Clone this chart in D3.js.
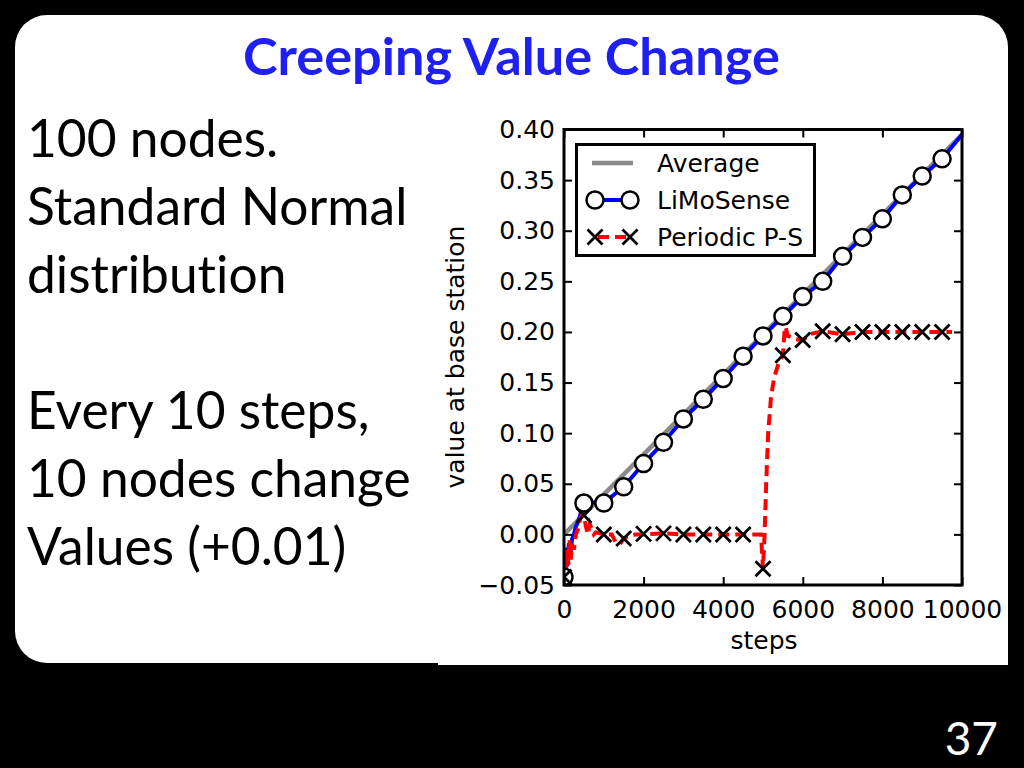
<!DOCTYPE html>
<html><head><meta charset="utf-8">
<script src="https://cdn.jsdelivr.net/npm/d3@7"></script>
<style>html,body{margin:0;padding:0;background:#000;overflow:hidden} text{font-variant-ligatures:none;font-feature-settings:"liga" 0}</style>
</head><body>
<svg id="c" width="1024" height="768"></svg>
<script>
// ---- data ----
const titleText = "Creeping Value Change";
const bodyLines = ["100 nodes.", "Standard Normal", "distribution", "", "Every 10 steps,", "10 nodes change", "Values (+0.01)"];
const pageNumber = "37";

const avgSteps = [0, 10000];
const avgValues = [0.0, 0.395];

const limoSteps = [0,30,60,90,120,160,200,250,300,350,400,450,500,600,700,800,900,1000,1500,2000,2500,3000,3500,4000,4500,5000,5500,6000,6500,7000,7500,8000,8500,9000,9500,10000];
const limoValues = [-0.045,-0.035,-0.015,-0.03,-0.01,-0.02,-0.005,0.0,0.008,0.012,0.018,0.026,0.031,0.033,0.031,0.032,0.031,0.031,0.047,0.070,0.091,0.114,0.1335,0.154,0.176,0.196,0.2154,0.235,0.250,0.2747,0.2934,0.3118,0.3354,0.354,0.371,0.395];
const limoMarkerSteps = [0,500,1000,1500,2000,2500,3000,3500,4000,4500,5000,5500,6000,6500,7000,7500,8000,8500,9000,9500];
const limoMarkerValues = [-0.042,0.031,0.031,0.047,0.070,0.091,0.114,0.1335,0.154,0.176,0.196,0.2154,0.235,0.250,0.2747,0.2934,0.3118,0.3354,0.354,0.371];

const psSteps = [0,25,50,80,110,140,170,200,250,300,350,400,450,500,550,600,650,700,750,800,1000,1200,1300,1400,1500,1600,1800,2000,2500,3000,3500,4000,4500,4950,5000,5040,5080,5130,5200,5280,5400,5500,5540,5570,5620,5700,5800,6000,6200,6500,7000,7500,8000,8500,9000,9500,9750];
const psValues = [-0.045,-0.02,-0.035,-0.015,-0.03,-0.005,-0.025,-0.01,-0.015,0.0,0.005,0.014,0.02,0.019,0.008,0.0,0.01,0.005,0.0,0.002,0.0,0.0,-0.008,-0.01,-0.004,-0.002,0.0,0.0,0.001,0.0,0.0,0.0,0.0,0.0,-0.034,0.0,0.05,0.10,0.135,0.155,0.170,0.177,0.200,0.205,0.196,0.195,0.193,0.192,0.198,0.2006,0.1977,0.2,0.2,0.2,0.2,0.2,0.2];
const psMarkerSteps = [0,500,1000,1500,2000,2500,3000,3500,4000,4500,5000,5500,6000,6500,7000,7500,8000,8500,9000,9500];
const psMarkerValues = [-0.042,0.019,0.0,-0.004,0.0005,0.001,0.0,0.0,0.0,0.0,-0.034,0.177,0.192,0.2006,0.1977,0.2,0.2,0.2,0.2,0.2];

const xTicks = [0,2000,4000,6000,8000,10000];
const yTicks = [-0.05,0.0,0.05,0.10,0.15,0.20,0.25,0.30,0.35,0.40];
const xLabel = "steps";
const yLabel = "value at base station";
const legendNames = ["Average", "LiMoSense", "Periodic P-S"];

// ---- drawing ----
const svg = d3.select("#c");
svg.append("rect").attr("width",1024).attr("height",768).attr("fill","#000");
svg.append("rect").attr("x",15).attr("y",15).attr("width",993).attr("height",648).attr("rx",32).attr("fill","#fff");
svg.append("rect").attr("x",438).attr("y",300).attr("width",570).attr("height",365).attr("fill","#fff");

// title
const title = svg.append("text").attr("x",243).attr("y",75)
  .attr("font-family","Lato, 'Open Sans', sans-serif").attr("font-weight","bold")
  .attr("font-size",50).attr("fill","#1f1ff2").text(titleText);
{ const w = title.node().getBBox().width; title.attr("font-size", 50*537/w); }

// body text
const bodyG = svg.append("g").attr("font-family","Lato, 'Open Sans', sans-serif").attr("fill","#000");
const bodyTargets = [249, 387, 262, 0, 337, 382, 320];
const bodyNodes = bodyLines.map((t,i) => bodyG.append("text").attr("x",27).attr("y",157+68*i).attr("font-size",50).text(t));
{
  let ratios = [];
  bodyNodes.forEach((n,i) => { if (bodyTargets[i] > 0) ratios.push(bodyTargets[i]/n.node().getBBox().width); });
  const r = d3.mean(ratios);
  bodyNodes.forEach(n => n.attr("font-size", 50*r));
}

// page number
svg.append("text").attr("x",998).attr("y",755).attr("text-anchor","end")
  .attr("font-family","Lato, 'Open Sans', sans-serif").attr("font-size",46).attr("fill","#fff").text(pageNumber);

// chart
const x = d3.scaleLinear().domain([0,10000]).range([564,962]);
const y = d3.scaleLinear().domain([-0.05,0.40]).range([585,129.5]);
const font = "'DejaVu Sans', sans-serif";
const fs = 25;

svg.append("clipPath").attr("id","plotclip").append("rect")
  .attr("x",564).attr("y",129.5).attr("width",398).attr("height",455.5);
const plot = svg.append("g").attr("clip-path","url(#plotclip)");

const line = d3.line().x(d=>x(d[0])).y(d=>y(d[1]));
plot.append("path").datum(avgSteps.map((s,i)=>[s,avgValues[i]]))
  .attr("d",line).attr("fill","none").attr("stroke","#8a8a8a").attr("stroke-width",4.5);
plot.append("path").datum(limoSteps.map((s,i)=>[s,limoValues[i]]))
  .attr("d",line).attr("fill","none").attr("stroke","#0000ff").attr("stroke-width",4).attr("stroke-linejoin","round");
plot.append("path").datum(psSteps.map((s,i)=>[s,psValues[i]]))
  .attr("d",line).attr("fill","none").attr("stroke","#ff0000").attr("stroke-width",4)
  .attr("stroke-dasharray","11,6");

plot.selectAll("circle.m").data(limoMarkerSteps.map((s,i)=>[s,limoMarkerValues[i]])).enter()
  .append("circle").attr("cx",d=>x(d[0])).attr("cy",d=>y(d[1])).attr("r",8.5)
  .attr("fill","#fff").attr("stroke","#000").attr("stroke-width",2.5);
const xs = 7.5;
const xPath = `M${-xs},${-xs}L${xs},${xs}M${-xs},${xs}L${xs},${-xs}`;
plot.selectAll("path.xm").data(psMarkerSteps.map((s,i)=>[s,psMarkerValues[i]])).enter()
  .append("path").attr("class","xm").attr("transform",d=>`translate(${x(d[0])},${y(d[1])})`)
  .attr("d",xPath).attr("stroke","#000").attr("stroke-width",2.8).attr("fill","none");

// axes (inward ticks on all four sides)
function styleAxis(g){
  g.select(".domain").remove();
  g.selectAll(".tick line").attr("stroke","#000").attr("stroke-width",2);
  g.selectAll("text").attr("font-family",font).attr("font-size",fs).attr("fill","#000");
}
const fmtY = d => (d<0?"\u2212":"") + Math.abs(d).toFixed(2);
svg.append("g").attr("transform","translate(564,0)")
  .call(d3.axisLeft(y).tickValues(yTicks).tickFormat(fmtY).tickSizeInner(-8).tickSizeOuter(0).tickPadding(9)).call(styleAxis);
svg.append("g").attr("transform","translate(962,0)")
  .call(d3.axisRight(y).tickValues(yTicks).tickFormat("").tickSizeInner(-8).tickSizeOuter(0)).call(styleAxis);
svg.append("g").attr("transform","translate(0,585)")
  .call(d3.axisBottom(x).tickValues(xTicks).tickFormat(d3.format("d")).tickSizeInner(-8).tickSizeOuter(0).tickPadding(15)).call(styleAxis);
svg.append("g").attr("transform","translate(0,129.5)")
  .call(d3.axisTop(x).tickValues(xTicks).tickFormat("").tickSizeInner(-8).tickSizeOuter(0)).call(styleAxis);

// frame
svg.append("rect").attr("x",564).attr("y",129.5).attr("width",398).attr("height",455.5)
  .attr("fill","none").attr("stroke","#000").attr("stroke-width",3);

// axis labels
svg.append("text").attr("x",764).attr("y",649).attr("text-anchor","middle")
  .attr("font-family",font).attr("font-size",fs).text(xLabel);
svg.append("text").attr("transform","translate(464,357) rotate(-90)").attr("text-anchor","middle")
  .attr("font-family",font).attr("font-size",fs).text(yLabel);

// legend
const lg = svg.append("g");
lg.append("rect").attr("x",576.5).attr("y",144.5).attr("width",238).attr("height",111)
  .attr("fill","#fff").attr("stroke","#000").attr("stroke-width",3);
const rowY = [163, 200, 237];
lg.append("line").attr("x1",592).attr("x2",633).attr("y1",rowY[0]).attr("y2",rowY[0]).attr("stroke","#8a8a8a").attr("stroke-width",4.5);
lg.append("line").attr("x1",595).attr("x2",630).attr("y1",rowY[1]).attr("y2",rowY[1]).attr("stroke","#0000ff").attr("stroke-width",4);
[595,630].forEach(cx => lg.append("circle").attr("cx",cx).attr("cy",rowY[1]).attr("r",8.5).attr("fill","#fff").attr("stroke","#000").attr("stroke-width",2.5));
lg.append("line").attr("x1",595).attr("x2",630).attr("y1",rowY[2]).attr("y2",rowY[2]).attr("stroke","#ff0000").attr("stroke-width",4).attr("stroke-dasharray","11,6").attr("stroke-dashoffset",-3);
[595,630].forEach(cx => lg.append("path").attr("transform",`translate(${cx},${rowY[2]})`).attr("d",xPath).attr("stroke","#000").attr("stroke-width",2.8).attr("fill","none"));
legendNames.forEach((n,i) => lg.append("text").attr("x",657).attr("y",rowY[i]+9)
  .attr("font-family",font).attr("font-size",fs).text(n));
</script>
</body></html>
